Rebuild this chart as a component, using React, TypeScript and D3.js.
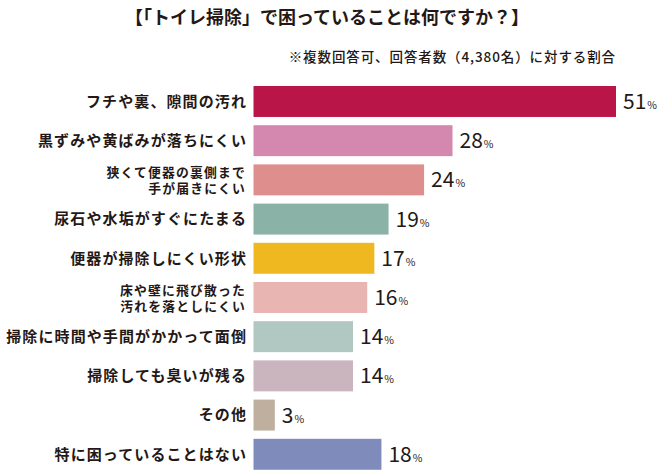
import React from "react";
import * as d3 from "d3";

const categories: string[][] = [
  ["フチや裏、隙間の汚れ"],
  ["黒ずみや黄ばみが落ちにくい"],
  ["狭くて便器の裏側まで", "手が届きにくい"],
  ["尿石や水垢がすぐにたまる"],
  ["便器が掃除しにくい形状"],
  ["床や壁に飛び散った", "汚れを落としにくい"],
  ["掃除に時間や手間がかかって面倒"],
  ["掃除しても臭いが残る"],
  ["その他"],
  ["特に困っていることはない"],
];
const values: number[] = [51, 28, 24, 19, 17, 16, 14, 14, 3, 18];
const colors: string[] = [
  "#BA1548",
  "#D488B0",
  "#DD8E8D",
  "#8BB2A7",
  "#EFB720",
  "#E8B5B3",
  "#B0C8C1",
  "#CAB4BE",
  "#BFAF9E",
  "#7F8CBB",
];
const title = "【「トイレ掃除」で困っていることは何ですか？】";
const subtitle = "※複数回答可、回答者数（4,380名）に対する割合";

const W = 668;
const H = 472;
const FONT = "'Noto Sans CJK JP', 'Noto Sans', sans-serif";
const TEXT = "#231815";

export default function App() {
  const keys = categories.map((c) => c.join(""));
  const y = d3
    .scaleBand<string>()
    .domain(keys)
    .range([86, 86 + 39.2 * (10 - 0.21)])
    .paddingInner(0.21)
    .paddingOuter(0);
  const x = d3.scaleLinear().domain([0, 51]).range([253.5, 616]);

  return (
    <svg
      width={W}
      height={H}
      style={{ position: "absolute", left: 0, top: 0, background: "#fff" }}
      fontFamily={FONT}
    >
      <text
        x={327}
        y={24}
        textAnchor="middle"
        fontSize={18}
        fontWeight={700}
        fill={TEXT}
      >
        {title}
      </text>
      <text
        x={616}
        y={62}
        textAnchor="end"
        fontSize={13.5}
        fontWeight={500}
        letterSpacing={0.9}
        fill={TEXT}
      >
        {subtitle}
      </text>
      {keys.map((k, i) => {
        const y0 = y(k)!;
        const bw = y.bandwidth();
        const cy = y0 + bw / 2;
        const lines = categories[i];
        return (
          <g key={k}>
            <rect
              x={x(0)}
              y={y0}
              width={x(values[i]) - x(0)}
              height={bw}
              fill={colors[i]}
            />
            {lines.length === 1 ? (
              <text
                x={247}
                y={cy}
                dy="0.36em"
                textAnchor="end"
                fontSize={15}
                fontWeight={700}
                letterSpacing={1.1}
                fill={TEXT}
              >
                {lines[0]}
              </text>
            ) : (
              lines.map((ln, j) => (
                <text
                  key={j}
                  x={246}
                  y={cy + 1 + (j === 0 ? -8 : 8)}
                  dy="0.36em"
                  textAnchor="end"
                  fontSize={12.8}
                  fontWeight={700}
                  letterSpacing={1.2}
                  fill={TEXT}
                >
                  {ln}
                </text>
              ))
            )}
            <text
              x={x(values[i]) + 7}
              y={cy}
              dy="0.36em"
              fontSize={21}
              fontWeight={400}
              fill={TEXT}
            >
              {values[i]}
              <tspan fontSize={10.5} dx={1}>
                %
              </tspan>
            </text>
          </g>
        );
      })}
    </svg>
  );
}
